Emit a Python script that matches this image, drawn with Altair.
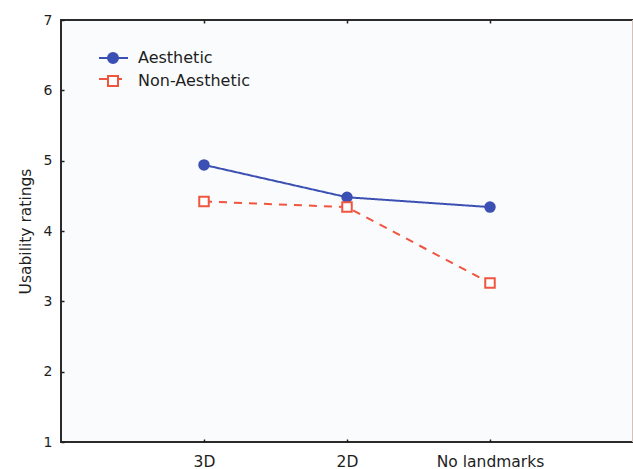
import altair as alt
import pandas as pd

# Mean usability ratings per landmark condition
categories = ["3D", "2D", "No landmarks"]
series_names = ["Aesthetic", "Non-Aesthetic"]
aesthetic = [4.94, 4.48, 4.34]
non_aesthetic = [4.42, 4.34, 3.26]

y_ticks = [1, 2, 3, 4, 5, 6, 7]

blue = "#3c50b4"
red = "#f0553f"
ink = "#1e1e1e"
font = "DejaVu Sans"

rows = []
for name, values in zip(series_names, [aesthetic, non_aesthetic]):
    for cond, val in zip(categories, values):
        rows.append({"condition": cond, "rating": val, "series": name, "group": name})
df = pd.DataFrame(rows)

x_scale = alt.Scale(domain=categories, type="point", padding=1)
y_scale = alt.Scale(domain=[1, 7], nice=False, zero=False)

# Line legend (stubs only, no label text) and marker legend (symbols + labels)
# are placed at the same spot so they read as one legend
line_legend = alt.Legend(
    title=None, orient="none", legendX=44, legendY=30, padding=0,
    symbolType="M-2.8,0L3,0", symbolSize=100, symbolStrokeWidth=2,
    labelFont=font, labelFontSize=16, labelExpr="''", labelOffset=17,
    rowPadding=5,
)
marker_legend = alt.Legend(
    title=None, orient="none", legendX=44, legendY=30, padding=0,
    symbolSize=100, symbolStrokeWidth=2,
    labelFont=font, labelFontSize=16, labelColor=ink, labelOffset=17,
    rowPadding=5,
)

bottom_axis = alt.Axis(
    title=None, orient="bottom", domain=False, grid=False,
    offset=-3, tickSize=3, tickWidth=1.5, tickColor=ink,
    labelFont=font, labelFontSize=15.5, labelColor=ink, labelPadding=12, labelAngle=0,
)
left_axis = alt.Axis(
    title="Usability ratings", orient="left", values=y_ticks, format="d",
    domain=False, grid=False, offset=-3, tickSize=3, tickWidth=1.5, tickColor=ink,
    labelFont=font, labelFontSize=14, labelColor=ink, labelPadding=9,
    titleFont=font, titleFontSize=15.5, titleFontWeight="normal", titleColor=ink,
    titlePadding=10,
)
top_axis = alt.Axis(
    title=None, orient="top", domain=False, grid=False, labels=False,
    offset=-3, tickSize=3, tickWidth=1.5, tickColor=ink,
)
right_axis = alt.Axis(
    title=None, orient="right", grid=False, labels=False, ticks=False,
    domain=True, domainColor="#d2c2bb", domainWidth=2, translate=0,
)

lines = alt.Chart(df).mark_line(strokeWidth=2).encode(
    x=alt.X("condition:N", scale=x_scale, sort=categories, axis=bottom_axis),
    y=alt.Y("rating:Q", scale=y_scale, axis=left_axis),
    color=alt.Color("series:N", scale=alt.Scale(domain=series_names, range=[blue, red]),
                    legend=line_legend),
    strokeDash=alt.StrokeDash("series:N",
                              scale=alt.Scale(domain=series_names, range=[[1, 0], [8, 7]]),
                              legend=line_legend),
)

# Marker scales take their domain from the "group" column (sorted), so this
# legend stays separate from the line legend
points = alt.Chart(df).mark_point(filled=True, size=90, strokeWidth=2, opacity=1).encode(
    x=alt.X("condition:N", scale=x_scale, sort=categories, axis=top_axis),
    y=alt.Y("rating:Q", scale=y_scale, axis=right_axis),
    shape=alt.Shape("group:N", sort="ascending",
                    scale=alt.Scale(range=["circle", "square"]), legend=marker_legend),
    fill=alt.Fill("group:N", sort="ascending",
                  scale=alt.Scale(range=[blue, "#ffffff"]), legend=marker_legend),
    stroke=alt.Stroke("group:N", sort="ascending",
                      scale=alt.Scale(range=[blue, red]), legend=marker_legend),
)

chart = (
    alt.layer(lines, points)
    .resolve_axis(x="independent", y="independent")
    .properties(
        width=572, height=422,
        autosize=alt.AutoSizeParams(type="none"),
        padding={"left": 61, "top": 20, "right": 0, "bottom": 27},
        background="#ffffff",
    )
    .configure_view(fill="#fafbfd", stroke="#2a2a2a", strokeWidth=2)
)

chart.save("out.html", embed_options={"renderer": "svg", "actions": False})
